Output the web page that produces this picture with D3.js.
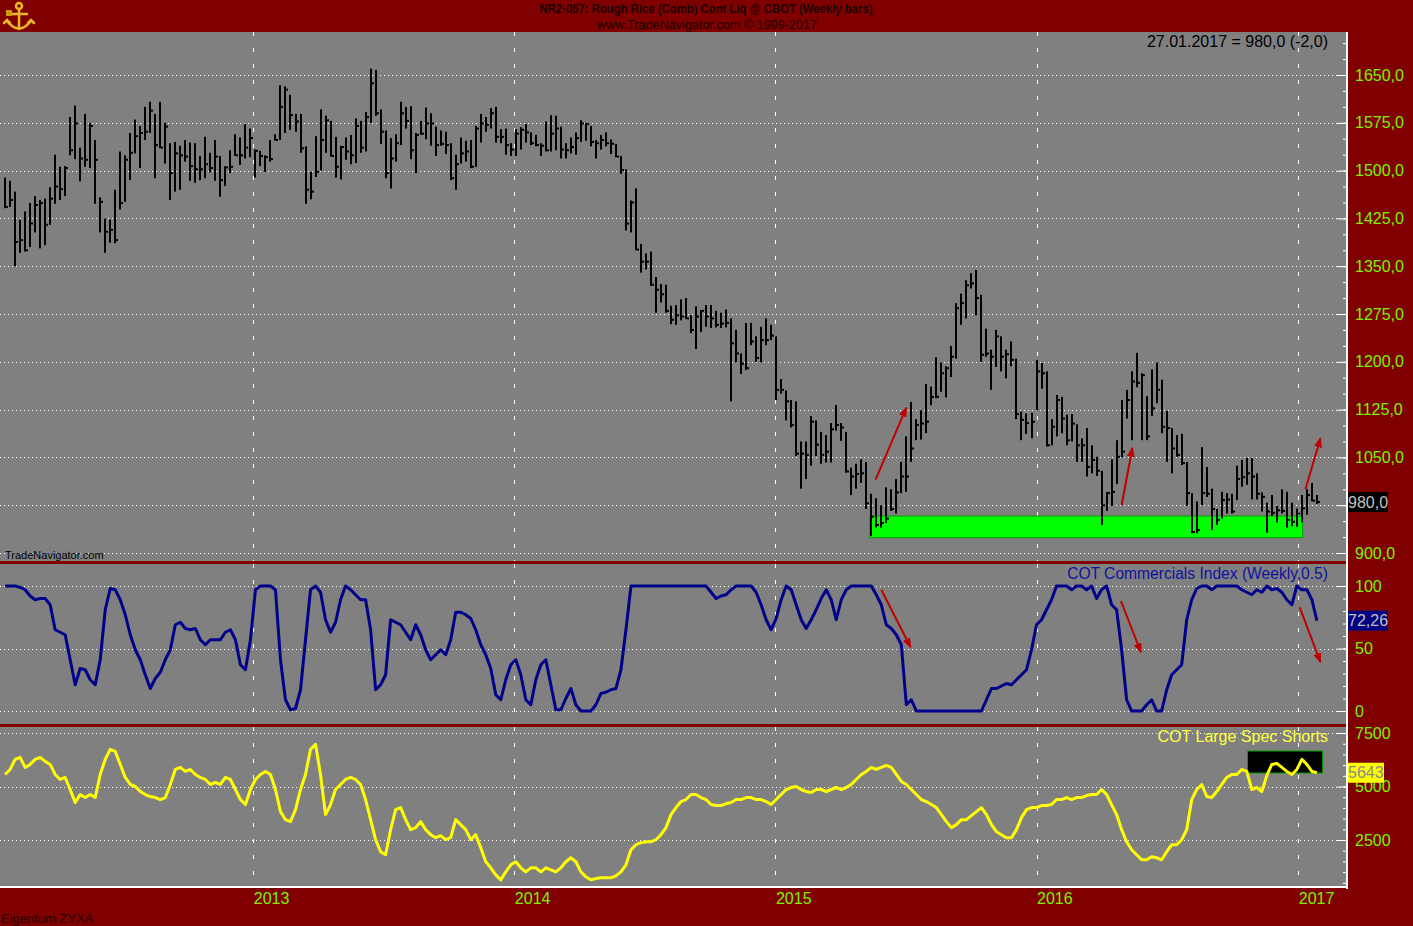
<!DOCTYPE html>
<html><head><meta charset="utf-8">
<script src="https://cdn.jsdelivr.net/npm/d3@7"></script>
<style>html,body{margin:0;padding:0;background:#800000;overflow:hidden}</style>
</head><body><svg id="c" width="1413" height="926"></svg>
<script>
// ---------------- DATA ----------------
const startDate = "2012-01-20";          // first weekly bar (Friday)
const lastLabel = "27.01.2017 = 980,0 (-2,0)";
const titleText = "NR2-057:  Rough Rice (Comb) Cont Liq @ CBOT  (Weekly bars)";
const subTitleText = "www.TradeNavigator.com \u00A9 1999-2017";

const priceHigh = [1489,1484,1467,1423,1436,1449,1460,1454,1456,1474,
1525,1506,1507,1584,1602,1536,1589,1575,1548,1458,
1425,1423,1470,1530,1524,1559,1580,1570,1600,1608,
1589,1608,1575,1543,1545,1539,1548,1544,1543,1523,
1553,1528,1548,1523,
1507,1532,1557,1552,1573,1566,1533,1531,1524,1548,
1557,1634,1632,1619,1589,1589,1538,1498,1554,1596,
1586,1578,1553,1539,1552,1556,1582,1578,1592,1660,
1658,1596,1563,1551,1557,1608,1600,1601,1559,1578,
1599,1590,1569,1563,1561,
1543,1525,1552,1547,1548,1570,1589,1584,1598,1600,
1565,1566,1543,1565,1568,1573,1560,1556,1543,1577,
1587,1586,1569,1543,1552,1560,1579,1575,1570,1548,
1556,1560,1549,1542,1523,1502,1453,1472,1385,1370,
1373,1333,1322,1321,1288,
1289,1298,1300,1273,1287,1281,1289,1289,1280,1277,
1282,1268,1250,1213,1261,1261,1240,1255,1268,1258,
1240,1173,1155,1140,1138,1075,1075,1115,1108,1090,
1085,1104,1132,1104,1090,1034,1040,1047,1043,993,
986,975,1003,1000,1016,
1043,1083,1137,1110,1124,1165,1161,1207,1199,1193,
1225,1292,1307,1328,1339,1344,1305,1252,1219,1250,
1240,1219,1232,1205,1122,1119,1120,1203,1198,1185,
1110,1148,1145,1117,1118,1102,1080,1096,1069,1051,
1029,996,1047,1077,1140,
1156,1185,1214,1182,1146,1188,1199,1172,1123,1096,
1085,1087,1043,994,981,1066,1035,1001,969,996,
994,993,1037,1046,1049,1049,1025,995,979,991,
974,1000,996,979,970,991,1000,1010,991];

const priceLow = [1441,1443,1350,1371,1373,1380,1403,1378,1383,1415,
1448,1454,1460,1524,1518,1483,1506,1504,1448,1403,
1371,1387,1386,1439,1451,1485,1527,1504,1548,1559,
1488,1535,1511,1454,1467,1470,1514,1484,1481,1485,
1488,1497,1484,1459,
1476,1496,1523,1509,1519,1521,1489,1507,1498,1514,
1547,1548,1559,1564,1561,1528,1448,1455,1490,1500,
1528,1522,1489,1486,1517,1510,1512,1528,1530,1575,
1586,1542,1488,1472,1514,1540,1566,1518,1496,1556,
1549,1539,1523,1539,1526,
1485,1470,1511,1514,1504,1506,1544,1561,1566,1544,
1543,1525,1523,1523,1533,1544,1540,1538,1523,1530,
1530,1532,1519,1519,1527,1525,1545,1547,1538,1519,
1533,1538,1526,1521,1495,1406,1403,1375,1340,1345,
1319,1277,1293,1277,1259,
1258,1265,1267,1245,1220,1247,1255,1253,1254,1253,
1254,1138,1199,1181,1187,1226,1200,1199,1226,1234,
1140,1150,1108,1097,1052,1001,1016,1037,1052,1040,
1042,1042,1092,1076,1026,991,1001,1010,969,927,
940,940,947,966,962,
994,996,1043,1077,1078,1088,1132,1143,1153,1144,
1176,1205,1258,1268,1315,1273,1200,1208,1156,1192,
1185,1174,1193,1110,1077,1087,1080,1124,1158,1067,
1069,1083,1088,1069,1075,1043,1043,1020,1025,1021,
944,966,974,1008,1050,
1111,1077,1160,1077,1077,1115,1135,1088,1043,1025,
1051,1038,974,931,931,975,988,936,944,954,
962,962,983,1004,1007,984,984,965,932,958,
948,962,940,942,941,948,960,981,977];

const priceClose = [1443,1454,1388,1391,1375,1417,1446,1449,1415,1456,
1475,1471,1504,1532,1574,1519,1517,1570,1517,1451,
1404,1407,1391,1449,1517,1528,1554,1559,1561,1594,
1540,1536,1569,1496,1527,1524,1522,1507,1502,1502,
1510,1504,1522,1485,
1505,1506,1524,1524,1536,1551,1531,1523,1521,1518,
1548,1600,1627,1587,1577,1535,1470,1467,1498,1548,
1579,1523,1506,1537,1530,1524,1570,1536,1584,1637,
1590,1561,1496,1519,1543,1590,1578,1532,1556,1558,
1574,1574,1540,1542,1540,
1488,1510,1527,1530,1506,1566,1574,1572,1590,1553,
1553,1540,1533,1558,1564,1560,1543,1540,1539,1532,
1558,1566,1533,1532,1537,1551,1574,1573,1545,1543,
1548,1543,1542,1522,1501,1417,1450,1376,1357,1357,
1321,1313,1306,1280,1266,
1273,1271,1268,1250,1271,1280,1271,1268,1258,1260,
1261,1229,1213,1197,1190,1232,1206,1234,1234,1241,
1156,1156,1138,1101,1056,1056,1054,1106,1070,1054,
1059,1094,1101,1097,1028,1020,1024,1025,978,957,
944,947,954,969,995,
1020,1020,1064,1101,1103,1106,1145,1145,1182,1190,
1208,1284,1292,1320,1323,1300,1211,1213,1208,1240,
1208,1212,1203,1118,1109,1104,1106,1185,1182,1069,
1098,1140,1111,1077,1103,1069,1069,1035,1046,1029,
975,994,996,1051,1059,
1140,1169,1167,1179,1083,1127,1156,1098,1096,1064,
1054,1041,994,933,936,994,993,969,952,983,
984,965,1016,1019,1025,1020,993,988,965,963,
967,966,952,949,962,970,991,982,980];

const cotCommercials = [100,100,100,99,97,92,89,90,90,85,
65,63,61,41,21,34,33,25,21,41,
81,98,97,89,77,61,49,41,29,18,
26,31,41,49,69,71,66,65,66,57,
53,57,57,57,63,65,57,37,33,57,
97,100,100,100,97,41,9,1,2,17,
57,97,100,95,73,63,71,89,100,97,
93,89,89,65,17,21,29,73,71,69,
63,57,69,61,49,41,45,49,45,57,
79,79,77,74,65,53,45,34,13,9,
25,37,41,29,9,5,25,37,41,21,
1,1,10,18,5,0,0,0,5,14,
15,17,18,33,65,100,100,100,100,100,
100,100,100,100,100,100,100,100,100,100,
100,95,90,92,93,97,100,100,100,100,
95,85,73,65,74,89,100,97,85,73,
66,73,81,90,97,89,73,89,97,100,
100,100,100,100,93,85,69,66,61,53,
5,9,0,0,0,0,0,0,0,0,
0,0,0,0,0,0,9,18,18,20,
22,21,25,29,33,49,69,73,81,89,
100,100,100,97,100,100,97,100,90,97,
100,85,81,49,9,0,0,0,5,9,
0,0,17,29,33,37,73,89,98,100,
100,97,100,100,100,100,100,97,95,93,
97,95,100,97,98,95,89,85,100,97,
97,89,72.26];

const largeSpecShorts = [5563,5797,6266,6360,5891,6032,6266,6360,6173,6032,
5563,5328,5422,4859,4250,4625,4484,4625,4484,5563,
6266,6735,6642,6032,5422,5094,5000,4766,4625,4531,
4484,4390,4484,5094,5797,5891,5704,5797,5563,5422,
5328,5094,5188,5094,5422,5328,4859,4390,4156,4859,
5328,5563,5704,5563,4859,3828,3452,3359,3921,4859,
5563,6735,6970,5563,3687,4156,4859,5094,5328,5422,
5328,5094,4390,3452,2514,1952,1811,2983,3921,4015,
3452,2983,3077,3359,2983,2749,2608,2702,2514,2608,
3452,3218,2983,2514,2749,2139,1483,1201,873,638,
1014,1342,1483,1201,1014,1201,1201,1014,1201,1107,
1014,1201,1483,1670,1483,1014,779,638,700,732,
732,732,826,1014,1342,2045,2280,2374,2420,2420,
2514,2749,3077,3687,4015,4296,4390,4625,4625,4484,
4390,4156,4109,4109,4203,4250,4390,4390,4484,4484,
4390,4390,4296,4156,4390,4625,4859,4953,5000,4859,
4766,4719,4859,4859,4766,4859,4953,4859,4953,5094,
5328,5563,5704,5891,5797,5891,5985,5891,5563,5235,
5094,4859,4625,4390,4296,4156,4015,3687,3359,3077,
3218,3452,3452,3640,3828,4015,3687,3218,2889,2749,
2608,2608,2983,3546,3921,4015,4015,4109,4109,4156,
4390,4390,4484,4390,4484,4484,4578,4625,4625,4859,
4625,4156,3687,2983,2420,2045,1811,1576,1576,1717,
1670,1576,1952,2280,2280,2514,2983,4390,4859,5094,
4531,4484,4766,5094,5422,5563,5563,5797,5704,4859,
4953,4766,5516,6032,6079,5891,5704,5563,5797,6266,
6032,5704,5643];

const yearTicks = ["2013-01-01","2014-01-01","2015-01-01","2016-01-01","2017-01-01"];
const priceTicks = [900,975,1050,1125,1200,1275,1350,1425,1500,1575,1650];
const cotTicks = [0,50,100];
const specTicks = [2500,5000,7500];

// annotations (date / value space)
const supportZone = {d0:"2015-05-13", d1:"2017-01-07", v0:924, v1:958};
const priceArrows = [
  {d0:"2015-05-21", v0:1015, d1:"2015-07-03", v1:1128},
  {d0:"2016-04-29", v0:975,  d1:"2016-05-14", v1:1065},
  {d0:"2017-01-11", v0:1000, d1:"2017-02-01", v1:1080}
];
const cotArrows = [
  {d0:"2015-05-29", v0:97, d1:"2015-07-09", v1:51},
  {d0:"2016-04-28", v0:88, d1:"2016-05-26", v1:47},
  {d0:"2017-01-03", v0:83, d1:"2017-02-01", v1:39}
];
const specBox = {d0:"2016-10-22", d1:"2017-02-04", v0:5631, v1:6659};

// ---------------- SETUP ----------------
const parse = d3.utcParse("%Y-%m-%d");
const t0 = parse(startDate);
const dates = priceClose.map((_, i) => d3.utcDay.offset(t0, 7 * i));
const W = 1413, H = 926;
const PR = 1346; // plot right edge
const x = d3.scaleUtc().domain([parse("2013-01-01"), parse("2017-01-01")]).range([253.3, 1298.3]);

const panels = {
  price: {top: 32, bottom: 561, y: d3.scaleLinear().domain([900, 1650]).range([553, 75])},
  cot:   {top: 564, bottom: 724, y: d3.scaleLinear().domain([0, 100]).range([711, 586])},
  spec:  {top: 727, bottom: 886, y: d3.scaleLinear().domain([2500, 7500]).range([840, 733])}
};
const loc = d3.formatLocale({decimal: ",", thousands: ".", grouping: [3], currency: ["", ""]});
const f1 = loc.format(".1f"), f2 = loc.format(".2f"), f0 = loc.format("d");

const FONT = "'Liberation Sans', Arial, sans-serif";
const GREEN = "#7cf000";
const svg = d3.select("#c");
svg.append("rect").attr("width", W).attr("height", H).attr("fill", "#800000");
const defs = svg.append("defs");
defs.append("marker").attr("id", "ah").attr("viewBox", "0 0 10 8")
  .attr("refX", 9).attr("refY", 4).attr("markerWidth", 10).attr("markerHeight", 8)
  .attr("markerUnits", "userSpaceOnUse").attr("orient", "auto")
  .append("path").attr("d", "M0,0L10,4L0,8Z").attr("fill", "#c00000");

Object.entries(panels).forEach(([k, p]) => {
  defs.append("clipPath").attr("id", "clip-" + k).append("rect")
    .attr("x", 0).attr("y", p.top).attr("width", PR).attr("height", p.bottom - p.top);
  svg.append("rect").attr("x", 0).attr("y", p.top).attr("width", PR)
    .attr("height", p.bottom - p.top).attr("fill", "#808080");
  p.g = svg.append("g").attr("clip-path", "url(#clip-" + k + ")");
});

// grids
function grid(p, ticks) {
  p.g.append("g").selectAll("line").data(ticks).join("line")
    .attr("x1", 0).attr("x2", PR).attr("y1", d => Math.round(p.y(d)) + 0.5).attr("y2", d => Math.round(p.y(d)) + 0.5)
    .attr("stroke", "#ffffff").attr("stroke-width", 1).attr("stroke-dasharray", "1,3");
  p.g.append("g").selectAll("line").data(yearTicks).join("line")
    .attr("x1", d => Math.round(x(parse(d))) + 0.5).attr("x2", d => Math.round(x(parse(d))) + 0.5)
    .attr("y1", p.top).attr("y2", p.bottom)
    .attr("stroke", "#ffffff").attr("stroke-width", 1).attr("stroke-dasharray", "4,12");
}
grid(panels.price, priceTicks);
grid(panels.cot, cotTicks);
grid(panels.spec, specTicks);

// support zone
const pp = panels.price;
pp.g.append("rect")
  .attr("x", x(parse(supportZone.d0))).attr("width", x(parse(supportZone.d1)) - x(parse(supportZone.d0)))
  .attr("y", pp.y(supportZone.v1)).attr("height", pp.y(supportZone.v0) - pp.y(supportZone.v1))
  .attr("fill", "#00ff00").attr("stroke", "#00a000").attr("stroke-width", 1);

// price bars
const bars = pp.g.append("g");
bars.selectAll("rect.hl").data(priceClose).join("rect").attr("class", "hl")
  .attr("x", (d, i) => Math.round(x(dates[i])) - 1).attr("width", 2)
  .attr("y", (d, i) => pp.y(priceHigh[i]))
  .attr("height", (d, i) => Math.max(1, pp.y(priceLow[i]) - pp.y(priceHigh[i])))
  .attr("fill", "#000");
bars.selectAll("rect.cl").data(priceClose).join("rect").attr("class", "cl")
  .attr("x", (d, i) => Math.round(x(dates[i])) + 1).attr("width", 2)
  .attr("y", d => pp.y(d) - 1).attr("height", 2).attr("fill", "#000");

// arrows
function arrows(p, list) {
  p.g.append("g").selectAll("line").data(list).join("line")
    .attr("x1", d => x(parse(d.d0))).attr("y1", d => p.y(d.v0))
    .attr("x2", d => x(parse(d.d1))).attr("y2", d => p.y(d.v1))
    .attr("stroke", "#c00000").attr("stroke-width", 2).attr("marker-end", "url(#ah)");
}
arrows(pp, priceArrows);

// COT commercials line
const pc = panels.cot;
pc.g.append("path").datum(cotCommercials)
  .attr("d", d3.line().x((d, i) => x(dates[i])).y(d => pc.y(d)))
  .attr("fill", "none").attr("stroke", "#00008a").attr("stroke-width", 3).attr("stroke-linejoin", "round");
arrows(pc, cotArrows);

// Large spec shorts line
const ps = panels.spec;
ps.g.append("rect")
  .attr("x", x(parse(specBox.d0))).attr("width", x(parse(specBox.d1)) - x(parse(specBox.d0)))
  .attr("y", ps.y(specBox.v1)).attr("height", ps.y(specBox.v0) - ps.y(specBox.v1))
  .attr("fill", "#000").attr("stroke", "#00a000").attr("stroke-width", 1);
ps.g.append("path").datum(largeSpecShorts)
  .attr("d", d3.line().x((d, i) => x(dates[i])).y(d => ps.y(d)))
  .attr("fill", "none").attr("stroke", "#ffff00").attr("stroke-width", 3).attr("stroke-linejoin", "round");

// white border
svg.append("rect").attr("x", PR).attr("y", 32).attr("width", 2).attr("height", 857).attr("fill", "#fff");
svg.append("rect").attr("x", 0).attr("y", 886).attr("width", PR + 2).attr("height", 2).attr("fill", "#fff");

// last values
const nP = priceClose.length - 1, nC = cotCommercials.length - 1, nS = largeSpecShorts.length - 1;

// right axes (labels hidden under a value tag are skipped, as in the reference where the tag covers them)
function rightAxis(p, major, minor, fmt, tagValue) {
  const ax = svg.append("g").attr("transform", `translate(${PR},0)`);
  ax.append("g").call(d3.axisLeft(p.y).tickValues(minor.filter(v => p.y(v) > p.top && p.y(v) < p.bottom)).tickSize(3).tickFormat(""))
    .call(g => g.select(".domain").remove())
    .call(g => g.selectAll("line").attr("stroke", "#fff").attr("stroke-width", 1));
  ax.append("g").call(d3.axisLeft(p.y).tickValues(major).tickSize(9).tickFormat(""))
    .call(g => g.select(".domain").remove())
    .call(g => g.selectAll("line").attr("stroke", "#fff").attr("stroke-width", 1));
  const shown = major.filter(v => Math.abs(p.y(v) - p.y(tagValue)) > 12);
  ax.append("g").attr("transform", "translate(2,0)")
    .call(d3.axisRight(p.y).tickValues(shown).tickSize(0).tickPadding(7).tickFormat(fmt))
    .call(g => g.select(".domain").remove())
    .call(g => g.selectAll("text").attr("fill", GREEN).attr("font-size", 16).attr("font-family", FONT));
}
rightAxis(pp, priceTicks, d3.range(900, 1701, 25), f1, priceClose[nP]);
rightAxis(pc, cotTicks, d3.range(0, 101, 10), f0, cotCommercials[nC]);
rightAxis(ps, specTicks, d3.range(0, 7501, 500), f0, largeSpecShorts[nS]);

// bottom axis (years)
svg.append("g").attr("transform", "translate(0,887)")
  .call(d3.axisBottom(x).tickValues(yearTicks.map(parse)).tickSize(0).tickPadding(6).tickFormat(d3.utcFormat("%Y")))
  .call(g => g.select(".domain").remove())
  .call(g => g.selectAll("text").attr("text-anchor", "start").attr("fill", GREEN)
    .attr("font-size", 16).attr("font-family", FONT));

function valueTag(y, txt, bg, fg, w) {
  svg.append("rect").attr("x", PR + 2).attr("y", y - 10).attr("width", w).attr("height", 20).attr("fill", bg);
  svg.append("text").attr("x", PR + 2).attr("y", y).attr("dy", "0.36em").text(txt)
    .attr("fill", fg).attr("font-size", 16).attr("font-family", FONT);
}
valueTag(pp.y(priceClose[nP]), f1(priceClose[nP]), "#000", "#c0c0c0", 40);
valueTag(pc.y(cotCommercials[nC]), f2(cotCommercials[nC]), "#000080", "#c0c0c0", 40);
valueTag(ps.y(largeSpecShorts[nS]), f0(largeSpecShorts[nS]), "#ffff00", "#8a8a8a", 36);

// texts
svg.append("text").attr("x", 1328).attr("y", 41).attr("dy", "0.36em").attr("text-anchor", "end")
  .attr("font-size", 16).attr("font-family", FONT).attr("fill", "#000").text(lastLabel);
svg.append("text").attr("x", 5).attr("y", 555).attr("dy", "0.36em")
  .attr("font-size", 11).attr("font-family", FONT).attr("fill", "#000").text("TradeNavigator.com");
svg.append("text").attr("x", 1328).attr("y", 573).attr("dy", "0.36em").attr("text-anchor", "end")
  .attr("font-size", 15.6).attr("font-family", FONT).attr("fill", "#1010a0").text("COT Commercials Index (Weekly,0.5)");
svg.append("text").attr("x", 1328).attr("y", 736).attr("dy", "0.36em").attr("text-anchor", "end")
  .attr("font-size", 16).attr("font-family", FONT).attr("fill", "#ffff40").text("COT Large Spec Shorts");
svg.append("text").attr("x", 706).attr("y", 9).attr("dy", "0.36em").attr("text-anchor", "middle")
  .attr("font-size", 12).attr("font-weight", "bold").attr("font-family", "'Liberation Sans Narrow', 'Liberation Sans', sans-serif")
  .attr("fill", "#1a0000").attr("textLength", 333).attr("lengthAdjust", "spacingAndGlyphs").text(titleText);
svg.append("text").attr("x", 707).attr("y", 24).attr("dy", "0.36em").attr("text-anchor", "middle")
  .attr("font-size", 13).attr("font-family", "'Liberation Sans Narrow', 'Liberation Sans', sans-serif")
  .attr("fill", "#1a0000").attr("textLength", 220).attr("lengthAdjust", "spacingAndGlyphs").text(subTitleText);
svg.append("text").attr("x", 1).attr("y", 918).attr("dy", "0.36em")
  .attr("font-size", 13).attr("font-family", FONT).attr("fill", "#2a0000").text("Eigentum ZYXA");

// logo (small golden anchor)
const logo = svg.append("g").attr("fill", "none").attr("stroke", "#e8b820").attr("stroke-width", 2.5).attr("stroke-linecap", "round");
logo.append("circle").attr("cx", 19).attr("cy", 6).attr("r", 3);
logo.append("line").attr("x1", 19).attr("y1", 9).attr("x2", 19).attr("y2", 29);
logo.append("line").attr("x1", 11).attr("y1", 14).attr("x2", 27).attr("y2", 14);
logo.append("path").attr("d", "M7,21 Q19,36 31,21");
logo.append("path").attr("d", "M4,23 L7,20 L10,23 M28,23 L31,20 L34,23");
logo.append("rect").attr("x", 6).attr("y", 10).attr("width", 6).attr("height", 6).attr("fill", "#c89a10").attr("stroke", "none");
</script></body></html>
